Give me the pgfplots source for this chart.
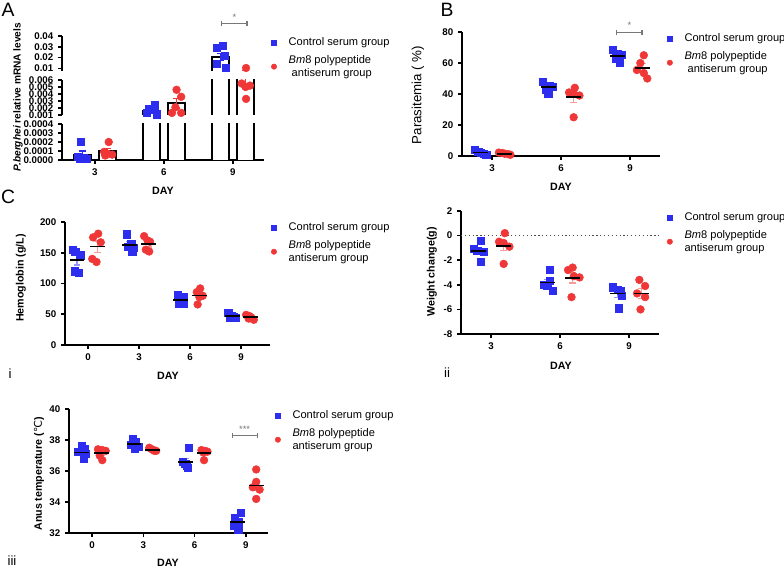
\documentclass[border=0pt]{standalone}
\usepackage{pgfplots}
\pgfplotsset{compat=1.18}
\usepackage{fontspec}
\setmainfont{Liberation Sans}
\newfontfamily\dvfont{DejaVu Sans}
\usetikzlibrary{calc}

\definecolor{ctrl}{RGB}{45,45,240}
\definecolor{bm}{RGB}{240,55,55}
\definecolor{sig}{RGB}{120,120,120}

\newcommand{\tkl}{\bfseries\fontsize{7.3}{8}\selectfont}
\newcommand{\lbl}{\bfseries\fontsize{8}{9}\selectfont}
\newcommand{\lgf}{\fontsize{8.3}{9.6}\selectfont}

\pgfplotsset{
  panel/.style={
    scale only axis, axis x line*=bottom, axis y line*=left,
    axis line style={line width=1.4pt},
    tick align=outside, major tick length=3pt,
    every tick/.append style={line width=1.2pt, black},
    tick label style={font=\tkl},
    /pgf/number format/assume math mode=true,
    scaled y ticks=false,
    xtick={3,6,9}, clip=false,
  },
  ctrlpts/.style={only marks, mark=square*, mark size=2.7pt, color=ctrl},
  bmpts/.style={only marks, mark=*, mark size=2.9pt, color=bm},
  meanc/.style={forget plot, only marks, mark=-, black, mark size=5.5pt, mark options={line width=1.3pt},
    error bars/.cd, y dir=both, y explicit,
    error bar style={line width=0.9pt, ctrl!50},
    error mark options={rotate=90, mark size=2.5pt, line width=0.9pt, ctrl!50}},
  meanb/.style={forget plot, only marks, mark=-, black, mark size=5.5pt, mark options={line width=1.3pt},
    error bars/.cd, y dir=both, y explicit,
    error bar style={line width=0.9pt, bm!50},
    error mark options={rotate=90, mark size=2.5pt, line width=0.9pt, bm!50}},
  errc/.style={draw=none, mark=none, forget plot,
    error bars/.cd, y dir=both, y explicit,
    error bar style={line width=0.9pt, draw=ctrl},
    error mark options={rotate=90, mark size=2.5pt, line width=0.9pt, draw=ctrl}},
  errb/.style={draw=none, mark=none, forget plot,
    error bars/.cd, y dir=both, y explicit,
    error bar style={line width=0.9pt, draw=bm},
    error mark options={rotate=90, mark size=2.5pt, line width=0.9pt, draw=bm}},
  barA/.style={fill=white, draw=black, line width=1.5pt, forget plot},
  leg/.style={legend style={at={(axis description cs:#1)}, anchor=north west, draw=none, fill=none,
    font=\lgf, cells={align=left}, row sep=1.5pt, inner sep=0pt,
    /tikz/every odd column/.append style={column sep=7pt}},
    legend cell align=left,
    legend image code/.code={\draw[##1, mark size=2pt] plot coordinates {(0pt,0pt)};}},
}

% panel A bars (mean values, open outline from 0 up), shared by the three segments
\newcommand{\Abars}{%
  \addplot[barA] coordinates {(2.075,0)(2.075,0.00006)(2.825,0.00006)(2.825,0)};
  \addplot[barA] coordinates {(5.075,0)(5.075,0.0015)(5.825,0.0015)(5.825,0)};
  \addplot[barA] coordinates {(8.075,0)(8.075,0.0205)(8.825,0.0205)(8.825,0)};
  \addplot[barA] coordinates {(3.175,0)(3.175,0.0001)(3.925,0.0001)(3.925,0)};
  \addplot[barA] coordinates {(6.175,0)(6.175,0.0027)(6.925,0.0027)(6.925,0)};
  \addplot[barA] coordinates {(9.175,0)(9.175,0.0064)(9.925,0.0064)(9.925,0)};
}

\begin{document}
\begin{tikzpicture}[x=0.75pt,y=-0.75pt]
\useasboundingbox (0,0) rectangle (784,570);

% ================= PANEL A : broken y axis =================
% bottom segment 0 .. 0.0004
\begin{axis}[panel, at={(46.5pt,-120pt)}, anchor=south west, width=151.5pt, height=27pt,
    xmin=1.57, xmax=10.35, ymin=0, ymax=0.0004, clip=true,
    ytick={0,0.0001,0.0002,0.0003,0.0004},
    yticklabels={0.0000,0.0001,0.0002,0.0003,0.0004}]
  \Abars
  \addplot[ctrlpts] coordinates {(2.4,0.0002)(2.25,0.00004)(2.5,0.00002)(2.65,0.00001)(2.35,0.00001)};
  \addplot[bmpts] coordinates {(3.6,0.0002)(3.4,0.00009)(3.55,0.00007)(3.75,0.00006)(3.45,0.00005)};
  \addplot[errc] coordinates {(2.45,0.00006) +- (0,0.00004)};
  \addplot[errb] coordinates {(3.55,0.0001) +- (0,0.00003)};
\end{axis}
% middle segment 0.001 .. 0.006
\begin{axis}[panel, axis x line=none, at={(46.5pt,-86.25pt)}, anchor=south west, width=151.5pt, height=26.25pt,
    xmin=1.57, xmax=10.35, ymin=0.001, ymax=0.006, clip=true,
    ytick={0.001,0.002,0.003,0.004,0.005,0.006},
    yticklabels={0.001,0.002,0.003,0.004,0.005,0.006}]
  \Abars
  \addplot[ctrlpts] coordinates {(5.6,0.0024)(5.35,0.0019)(5.5,0.0017)(5.25,0.0013)(5.7,0.0011)};
  \addplot[bmpts] coordinates {(6.55,0.0046)(6.75,0.0036)(6.35,0.0013)(6.75,0.0013)(6.5,0.0021)};
  \addplot[bmpts] coordinates {(9.38,0.0055)(9.74,0.0052)(9.55,0.0050)(9.57,0.0033)};
  \addplot[errc] coordinates {(5.45,0.0015) +- (0,0.00025)};
  \addplot[errb] coordinates {(6.55,0.0027) +- (0,0.0007)(9.55,0.0064) +- (0,0.0016)};
\end{axis}
% top segment 0.0075 .. 0.04
\begin{axis}[panel, axis x line=none, at={(46.5pt,-53.25pt)}, anchor=south west, width=151.5pt, height=26.25pt,
    xmin=1.57, xmax=10.35, ymin=0.0075, ymax=0.04, clip=true,
    ytick={0.01,0.02,0.03,0.04}, yticklabels={0.01,0.02,0.03,0.04},
    leg={1.035,1.03}]
  \Abars
  \addplot[ctrlpts] coordinates {(8.3,0.0294)(8.55,0.0313)(8.65,0.0216)(8.3,0.0139)(8.7,0.0108)};
  \addlegendentry{Control serum group}
  \addplot[bmpts] coordinates {(9.57,0.0103)};
  \addlegendentry{\textit{Bm}8 polypeptide\\\ antiserum group}
  \addplot[errc] coordinates {(8.45,0.0205) +- (0,0.003)};
  \addplot[errb] coordinates {(9.55,0.0064) +- (0,0.0016)};
  \coordinate (sa1) at (axis cs:8.52,0.0516);
  \coordinate (sa2) at (axis cs:9.61,0.0516);
\end{axis}
\draw[sig, line width=0.8pt] ([yshift=2pt]sa1) -- ([yshift=-2pt]sa1) (sa1) -- (sa2) ([yshift=2pt]sa2) -- ([yshift=-2pt]sa2);
\node[sig, font=\fontsize{7}{7}\selectfont] at ([yshift=5pt]$(sa1)!0.5!(sa2)$) {*};
\node[font=\fontsize{14.5}{15}\selectfont] at (8,10) {A};
\node[rotate=90, font=\bfseries\fontsize{7.6}{8}\selectfont] at (18,97) {\textit{P.berghei} relative mRNA levels};
\node[font=\lbl] at (163,191) {DAY};

% ================= PANEL B =================
\begin{axis}[panel, at={(346.5pt,-117pt)}, anchor=south west, width=148.5pt, height=93pt,
    xmin=1.696, xmax=10.304, ymin=0, ymax=80, ytick={0,20,40,60,80},
    leg={1.035,1.008}]
  \addplot[ctrlpts] coordinates {(2.25,3.9)(2.4,2.6)(2.5,2.0)(2.65,1.3)(2.75,0.6)
    (5.2,47.7)(5.5,45)(5.65,44.5)(5.35,43)(5.45,40)
    (8.25,68.4)(8.45,66)(8.65,65.5)(8.4,63)(8.55,60)};
  \addlegendentry{Control serum group}
  \addplot[bmpts] coordinates {(3.3,2.2)(3.45,1.9)(3.55,1.5)(3.7,1.2)(3.8,0.8)
    (6.35,41)(6.6,44)(6.55,40.5)(6.8,39)(6.55,25)
    (9.6,65)(9.45,60)(9.3,55.5)(9.6,53.5)(9.75,50)};
  \addlegendentry{\textit{Bm}8 polypeptide\\\ antiserum group}
  \addplot[meanc] coordinates {(2.5,2.2) +- (0,0.6)(5.45,44.3) +- (0,1.3)(8.45,64.5) +- (0,1.4)};
  \addplot[meanb] coordinates {(3.55,1.5) +- (0,0.3)(6.55,38) +- (0,3.3)(9.55,57) +- (0,2.6)};
  \draw[sig, line width=0.8pt] (axis cs:8.43,81) -- (axis cs:8.43,77.8) (axis cs:8.43,79.4) -- (axis cs:9.52,79.4) (axis cs:9.52,81) -- (axis cs:9.52,77.8);
  \node[sig, font=\fontsize{7}{7}\selectfont] at (axis cs:8.98,84.5) {*};
\end{axis}
\node[font=\fontsize{14.5}{15}\selectfont] at (447,10) {B};
\node[rotate=90, font=\fontsize{10}{11}\selectfont] at (418,95) {Parasitemia ( \%)};
\node[font=\lbl] at (561,187) {DAY};

% ================= PANEL C-i : hemoglobin =================
\begin{axis}[panel, at={(48.75pt,-258.75pt)}, anchor=south west, width=153.75pt, height=92.25pt,
    xmin=-1.353, xmax=10.706, ymin=0, ymax=200, xtick={0,3,6,9}, ytick={0,50,100,150,200},
    leg={1.005,1.016}]
  \addplot[ctrlpts] coordinates {(-0.9,155)(-0.75,152)(-0.45,146)(-0.8,120)(-0.55,118)
    (2.3,180)(2.55,165)(2.35,160)(2.7,158)(2.6,152)
    (5.3,82)(5.6,78)(5.45,72)(5.35,68)(5.65,67)
    (8.25,52)(8.45,48)(8.55,46)(8.35,45)(8.7,44)};
  \addlegendentry{Control serum group}
  \addplot[bmpts] coordinates {(0.3,175)(0.6,181)(0.75,167)(0.25,140)(0.5,135)
    (3.3,177)(3.5,170)(3.65,168)(3.4,155)(3.6,152)
    (6.6,92)(6.4,86)(6.75,80)(6.55,78)(6.45,66)
    (9.3,49)(9.5,47)(9.6,45)(9.45,43)(9.75,41)};
  \addlegendentry{\textit{Bm}8 polypeptide\\antiserum group}
  \addplot[meanc] coordinates {(-0.65,138) +- (0,7.9)(2.45,163) +- (0,4.8)(5.45,73) +- (0,3)(8.5,47) +- (0,1.4)};
  \addplot[meanb] coordinates {(0.55,160) +- (0,9)(3.55,164) +- (0,4.8)(6.55,80.5) +- (0,4.3)(9.55,45) +- (0,1.4)};
\end{axis}
\node[font=\fontsize{14.5}{15}\selectfont] at (8,197) {C};
\node[rotate=90, font=\lbl] at (21,278) {Hemoglobin (g/L)};
\node[font=\lbl] at (168,376) {DAY};
\node[font=\fontsize{10}{10}\selectfont] at (10,374) {i};

% ================= PANEL C-ii : weight change =================
\begin{axis}[panel, at={(345.75pt,-250.5pt)}, anchor=south west, width=148.5pt, height=92.25pt,
    xmin=1.696, xmax=10.304, ymin=-8, ymax=2, ytick={-8,-6,-4,-2,0,2},
    yticklabels={-8,-6,-4,-2,0,2},
    leg={1.04,1.008}]
  \addplot[ctrlpts] coordinates {(2.55,-0.4)(2.25,-1.1)(2.4,-1.25)(2.7,-1.3)(2.55,-2.1)
    (5.55,-2.8)(5.55,-3.7)(5.3,-4.0)(5.45,-4.1)(5.7,-4.5)
    (8.3,-4.2)(8.5,-4.4)(8.65,-4.5)(8.7,-4.9)(8.55,-5.9)};
  \addlegendentry{Control serum group}
  \addplot[bmpts] coordinates {(3.6,0.2)(3.35,-0.5)(3.55,-0.6)(3.8,-0.9)(3.55,-2.3)
    (6.35,-2.8)(6.55,-2.6)(6.6,-3.3)(6.85,-3.4)(6.5,-5.0)
    (9.45,-3.6)(9.7,-4.1)(9.35,-4.7)(9.7,-5.0)(9.5,-6.0)};
  \addlegendentry{\textit{Bm}8 polypeptide\\antiserum group}
  \addplot[black!70, dotted, line width=0.9pt, forget plot] coordinates {(1.696,0)(10.304,0)};
  \addplot[meanc] coordinates {(2.45,-1.25) +- (0,0.28)(5.45,-3.82) +- (0,0.28)(8.5,-4.7) +- (0,0.3)};
  \addplot[meanb] coordinates {(3.55,-0.82) +- (0,0.42)(6.55,-3.42) +- (0,0.43)(9.55,-4.7) +- (0,0.4)};
\end{axis}
\node[rotate=90, font=\lbl] at (432,272) {Weight change(g)};
\node[font=\lbl] at (561,366) {DAY};
\node[font=\fontsize{10}{10}\selectfont] at (447,373) {ii};

% ================= PANEL C-iii : anus temperature =================
\begin{axis}[panel, at={(51.75pt,-399.75pt)}, anchor=south west, width=149.25pt, height=93pt,
    xmin=-1.345, xmax=10.29, ymin=32, ymax=40, xtick={0,3,6,9}, ytick={32,34,36,38,40},
    leg={1.035,1.008}]
  \addplot[ctrlpts] coordinates {(-0.6,37.6)(-0.45,37.45)(-0.8,37.25)(-0.35,37.1)(-0.5,36.8)
    (2.4,38.05)(2.55,37.9)(2.3,37.7)(2.7,37.55)(2.5,37.45)
    (5.65,37.5)(5.3,36.6)(5.45,36.45)(5.55,36.35)(5.6,36.2)
    (8.7,33.3)(8.35,33.0)(8.6,32.7)(8.3,32.45)(8.55,32.2)};
  \addlegendentry{Control serum group}
  \addplot[bmpts] coordinates {(0.35,37.4)(0.6,37.35)(0.8,37.3)(0.45,37.0)(0.6,36.7)
    (3.35,37.5)(3.5,37.4)(3.6,37.35)(3.75,37.3)(3.65,37.3)
    (6.4,37.35)(6.6,37.3)(6.75,37.25)(6.5,37.2)(6.55,36.7)
    (9.6,36.1)(9.6,35.3)(9.4,34.95)(9.8,34.8)(9.6,34.2)};
  \addlegendentry{\textit{Bm}8 polypeptide\\antiserum group}
  \addplot[meanc] coordinates {(-0.6,37.2) +- (0,0.14)(2.45,37.73) +- (0,0.1)(5.45,36.6) +- (0,0.22)(8.5,32.73) +- (0,0.19)};
  \addplot[meanb] coordinates {(0.55,37.15) +- (0,0.13)(3.55,37.37) +- (0,0.04)(6.55,37.15) +- (0,0.12)(9.6,35.07) +- (0,0.3)};
  \draw[sig, line width=0.8pt] (axis cs:8.19,38.45) -- (axis cs:8.19,38.15) (axis cs:8.19,38.3) -- (axis cs:9.65,38.3) (axis cs:9.65,38.45) -- (axis cs:9.65,38.15);
  \node[sig, font=\fontsize{7}{7}\selectfont] at (axis cs:8.92,38.7) {***};
\end{axis}
\node[rotate=90, font=\lbl] at (39,474) {Anus temperature ({\dvfont\mdseries ℃})};
\node[font=\lbl] at (168,563) {DAY};
\node[font=\fontsize{10}{10}\selectfont] at (12,561) {iii};

\end{tikzpicture}
\end{document}
